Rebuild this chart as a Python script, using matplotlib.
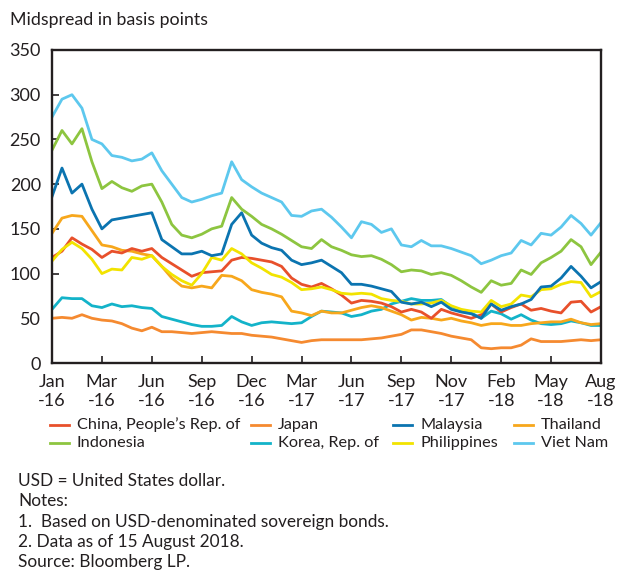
import numpy as np
import matplotlib
matplotlib.use("Agg")
import matplotlib.pyplot as plt
from matplotlib.lines import Line2D

plt.rcParams['font.family'] = ['Lato', 'DejaVu Sans']

tick_labels = ["Jan\n-16", "Mar\n-16", "Jun\n-16", "Sep\n-16", "Dec\n-16", "Mar\n-17",
               "Jun\n-17", "Sep\n-17", "Nov\n-17", "Feb\n-18", "May\n-18", "Aug\n-18"]

# sample position measured in tick intervals (0 = Jan-16, 11 = Aug-18), step 0.2
x_pos = np.round(np.arange(0, 56) * 0.2, 1)

viet_nam = [275, 295, 300, 285, 250, 245, 232, 230, 226, 228, 235, 215, 200, 185, 180, 183, 187, 190, 225, 205,
            197, 190, 185, 180, 165, 164, 170, 172, 163, 152, 140, 158, 155, 146, 150, 132, 130, 137, 131, 131,
            128, 124, 120, 111, 115, 120, 123, 137, 132, 145, 143, 152, 165, 156, 143, 157]
indonesia = [238, 260, 245, 262, 225, 195, 203, 196, 192, 198, 200, 180, 155, 143, 140, 144, 150, 153, 185, 172,
             164, 155, 150, 144, 137, 130, 128, 138, 130, 126, 121, 119, 120, 116, 110, 102, 104, 103, 99, 101,
             98, 92, 85, 79, 92, 87, 89, 104, 99, 112, 118, 125, 138, 130, 110, 124]
malaysia = [186, 218, 190, 200, 172, 150, 160, 162, 164, 166, 168, 138, 130, 122, 122, 125, 120, 122, 155, 168,
            143, 134, 129, 126, 115, 110, 112, 115, 108, 101, 88, 88, 86, 83, 80, 68, 66, 68, 63, 68,
            60, 57, 55, 50, 66, 59, 63, 66, 71, 85, 86, 95, 108, 97, 84, 91]
thailand = [145, 162, 165, 164, 148, 132, 130, 126, 125, 122, 120, 108, 95, 86, 84, 86, 84, 98, 97, 92,
            82, 79, 77, 74, 58, 56, 53, 58, 56, 56, 59, 62, 64, 62, 58, 54, 48, 51, 50, 48,
            50, 47, 45, 42, 44, 44, 42, 42, 44, 45, 46, 46, 49, 45, 43, 44]
china = [118, 125, 140, 133, 127, 118, 125, 123, 128, 125, 128, 118, 111, 104, 97, 101, 102, 103, 115, 118,
         117, 115, 113, 108, 95, 88, 85, 89, 83, 76, 67, 70, 69, 67, 63, 57, 60, 57, 50, 60,
         56, 53, 50, 54, 66, 57, 62, 66, 59, 61, 58, 56, 68, 69, 57, 63]
philippines = [114, 127, 135, 128, 116, 100, 105, 104, 118, 116, 120, 108, 99, 92, 87, 100, 118, 115, 128, 122,
               112, 106, 99, 96, 90, 82, 83, 85, 82, 78, 77, 78, 77, 72, 70, 69, 66, 66, 67, 70,
               64, 60, 58, 57, 70, 63, 66, 76, 74, 82, 83, 88, 91, 90, 74, 80]
korea = [60, 73, 72, 72, 64, 62, 66, 63, 64, 62, 61, 52, 49, 46, 43, 41, 41, 42, 52, 46,
         42, 45, 46, 45, 44, 45, 52, 58, 57, 56, 52, 54, 58, 60, 66, 69, 72, 70, 70, 71,
         63, 59, 56, 50, 58, 55, 49, 54, 48, 44, 43, 44, 47, 45, 42, 42]
japan = [50, 51, 50, 54, 50, 48, 47, 44, 39, 36, 40, 35, 35, 34, 33, 34, 35, 34, 33, 33,
         31, 30, 29, 27, 25, 23, 25, 26, 26, 26, 26, 26, 27, 28, 30, 32, 37, 37, 35, 33,
         30, 28, 26, 17, 16, 17, 17, 20, 27, 24, 24, 24, 25, 26, 25, 26]

series = {
    "China, People\u2019s Rep. of": (china, "#E8502B"),
    "Japan": (japan, "#F58A30"),
    "Malaysia": (malaysia, "#0B74B0"),
    "Thailand": (thailand, "#F7A71C"),
    "Indonesia": (indonesia, "#8DC540"),
    "Korea, Rep. of": (korea, "#13B3C9"),
    "Philippines": (philippines, "#F2E300"),
    "Viet Nam": (viet_nam, "#5DC8EE"),
}
draw_order = ["Japan", "Korea, Rep. of", "Thailand", "China, People\u2019s Rep. of", "Philippines",
              "Malaysia", "Indonesia", "Viet Nam"]
# legend layout: rows x columns, as in the reference
legend_rows = [["China, People\u2019s Rep. of", "Japan", "Malaysia", "Thailand"],
               ["Indonesia", "Korea, Rep. of", "Philippines", "Viet Nam"]]
legend_col_px = [50, 251, 393, 514]
legend_row_px = [425, 443]

W, H = 618, 572
fig = plt.figure(figsize=(W / 100, H / 100), dpi=100)
ax = fig.add_axes([52 / W, 1 - 363 / H, 549 / W, 313 / H])

for name in draw_order:
    vals, col = series[name]
    ax.plot(x_pos, vals, color=col, lw=2.0, solid_joinstyle='round')

ax.set_xlim(0, 11)
ax.set_ylim(0, 350)
ax.set_yticks(np.arange(0, 351, 50))
ax.set_xticks(np.arange(12))
ax.set_xticklabels(tick_labels, linespacing=1.25)
for s in ax.spines.values():
    s.set_linewidth(1.7)
    s.set_color("#231F20")
ax.tick_params(direction='in', length=5, width=1.2, color="#231F20", labelsize=13,
               labelcolor="#231F20")
ax.tick_params(axis='x', pad=8)
ax.tick_params(axis='y', pad=8)

fig.text(10 / W, 1 - 20 / H, "Midspread in basis points", fontsize=12.8, color="#231F20",
         ha='left', va='center')

for r, row in enumerate(legend_rows):
    for c, name in enumerate(row):
        x0 = legend_col_px[c]
        y0 = 1 - legend_row_px[r] / H
        fig.add_artist(Line2D([x0 / W, (x0 + 19) / W], [y0, y0], color=series[name][1], lw=2.0,
                              transform=fig.transFigure))
        fig.text((x0 + 27) / W, y0, name, fontsize=11.7, color="#231F20", ha='left', va='center')

notes = ["USD = United States dollar.", "Notes:", "1.  Based on USD-denominated sovereign bonds.",
         "2. Data as of 15 August 2018.", "Source: Bloomberg LP."]
for i, t in enumerate(notes):
    fig.text(18 / W, 1 - (481 + i * 20.3) / H, t, fontsize=12.4, color="#231F20",
             ha='left', va='center')

fig.savefig("out.png", dpi=100)
